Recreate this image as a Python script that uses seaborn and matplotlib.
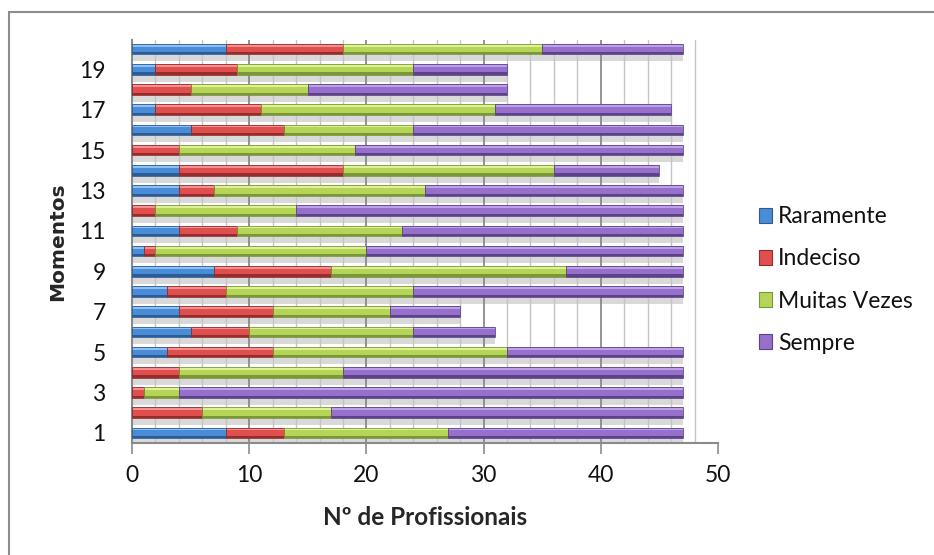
import numpy as np
import pandas as pd
import matplotlib
matplotlib.use("Agg")
import matplotlib.pyplot as plt
from matplotlib.patches import Rectangle
import seaborn as sns

# Data: number of professionals per answer, for each moment (1..20)
momentos = list(range(1, 21))
raramente    = [8, 0, 0, 0, 3, 5, 4, 3, 7, 1, 4, 0, 4, 4, 0, 5, 2, 0, 2, 8]
indeciso     = [5, 6, 1, 4, 9, 5, 8, 5, 10, 1, 5, 2, 3, 14, 4, 8, 9, 5, 7, 10]
muitas_vezes = [14, 11, 3, 14, 20, 14, 10, 16, 20, 18, 14, 12, 18, 18, 15, 11, 20, 10, 15, 17]
sempre       = [20, 30, 43, 29, 15, 7, 6, 23, 10, 27, 24, 33, 22, 9, 28, 23, 15, 17, 8, 12]
series_names = ["Raramente", "Indeciso", "Muitas Vezes", "Sempre"]
x_ticks = [0, 10, 20, 30, 40, 50]
y_ticks = [1, 3, 5, 7, 9, 11, 13, 15, 17, 19]

# Colour triples per series: main face, top highlight, bottom shade
palette = {
    "Raramente":    ("#4a8cd6", "#8cc2f2", "#2c5c96"),
    "Indeciso":     ("#de4f4e", "#f59090", "#962c2c"),
    "Muitas Vezes": ("#b6d558", "#dcf294", "#7a9838"),
    "Sempre":       ("#9770cc", "#bda0ea", "#5c4288"),
}

df = pd.DataFrame({"Momento": momentos,
                   "Raramente": raramente,
                   "Indeciso": indeciso,
                   "Muitas Vezes": muitas_vezes,
                   "Sempre": sempre})
starts = df[series_names].cumsum(axis=1) - df[series_names]
ends = df[series_names].cumsum(axis=1)
totals = ends["Sempre"]

sns.set_theme(style="white")
plt.rcParams["font.family"] = ["Lato", "DejaVu Sans"]
plt.rcParams["text.color"] = "#111111"
plt.rcParams["xtick.color"] = "#111111"
plt.rcParams["ytick.color"] = "#111111"

fig = plt.figure(figsize=(9.34, 5.55), dpi=100)
W, H = 934, 555
ax = fig.add_axes([132 / W, 1 - 443 / H, 586 / W, 403 / H])

bar_h = 0.52
y = df["Momento"].to_numpy(dtype=float)

# soft floor shadow under each bar
ax.barh(y - bar_h / 2 - 0.17, totals, height=0.36, left=0,
        color="#d9d9d9", linewidth=0, zorder=1)

# vertical gridlines every 2 units, darker every 10
for gx in range(2, 49, 2):
    ax.axvline(gx, color="#8a8a8a" if gx % 10 == 0 else "#c4c4c4",
               lw=1.3 if gx % 10 == 0 else 1.0, zorder=1.5)

# stacked bars: draw cumulative totals from the outermost series inward
for name in reversed(series_names):
    main, hi, lo = palette[name]
    sns.barplot(data=df, x=ends[name], y="Momento", orient="h",
                native_scale=True, width=bar_h, color=main, saturation=1,
                linewidth=0, ax=ax, zorder=3)

# bevel: light strip along the top, dark strip along the bottom of each segment
for name in series_names:
    main, hi, lo = palette[name]
    vals = df[name].to_numpy()
    left = starts[name].to_numpy()
    ax.barh(y + bar_h / 2 - 0.07, vals, height=0.14, left=left,
            color=hi, linewidth=0, zorder=4)
    ax.barh(y - bar_h / 2 + 0.055, vals, height=0.11, left=left,
            color=lo, linewidth=0, zorder=4)
    ax.barh(y, vals, height=bar_h, left=left, fill=False,
            edgecolor=lo, linewidth=0.6, zorder=5)

ax.set_xlim(0, 50)
ax.set_ylim(0.5, 20.45)
ax.set_xticks(x_ticks)
ax.set_xticklabels([str(v) for v in x_ticks])
ax.set_yticks(y_ticks)
ax.set_yticklabels([str(v) for v in y_ticks])
ax.tick_params(axis="x", length=8, width=1.2, color="#8a8a8a", direction="out",
               labelsize=16.5, pad=8, bottom=True)
ax.tick_params(axis="y", length=0, labelsize=16.5, pad=19)

for side in ["top", "right"]:
    ax.spines[side].set_visible(False)
for side in ["left", "bottom"]:
    ax.spines[side].set_color("#8a8a8a")
    ax.spines[side].set_linewidth(1.5)

ax.set_xlabel("Nº de Profissionais", fontsize=17.5, fontweight="bold", labelpad=14)
ax.set_ylabel("Momentos", fontsize=14.5, fontweight="bold",
              family="DejaVu Sans", labelpad=8.5)

handles = [Rectangle((0, 0), 1, 1, facecolor=palette[n][0],
                     edgecolor=palette[n][2], linewidth=0.8) for n in series_names]
fig.legend(handles, series_names, loc="center left",
           bbox_to_anchor=(738 / W, 1 - 280 / H), frameon=False,
           fontsize=16.5, handlelength=0.6, handleheight=0.6,
           handletextpad=0.25, labelspacing=0.92)

# chart-area border
fig.add_artist(Rectangle((9 / W, -0.01), 1.05, 1 - 12 / H + 0.01,
                         transform=fig.transFigure, fill=False,
                         edgecolor="#8c8c8c", linewidth=1.5))

fig.savefig("out.png", dpi=100)
